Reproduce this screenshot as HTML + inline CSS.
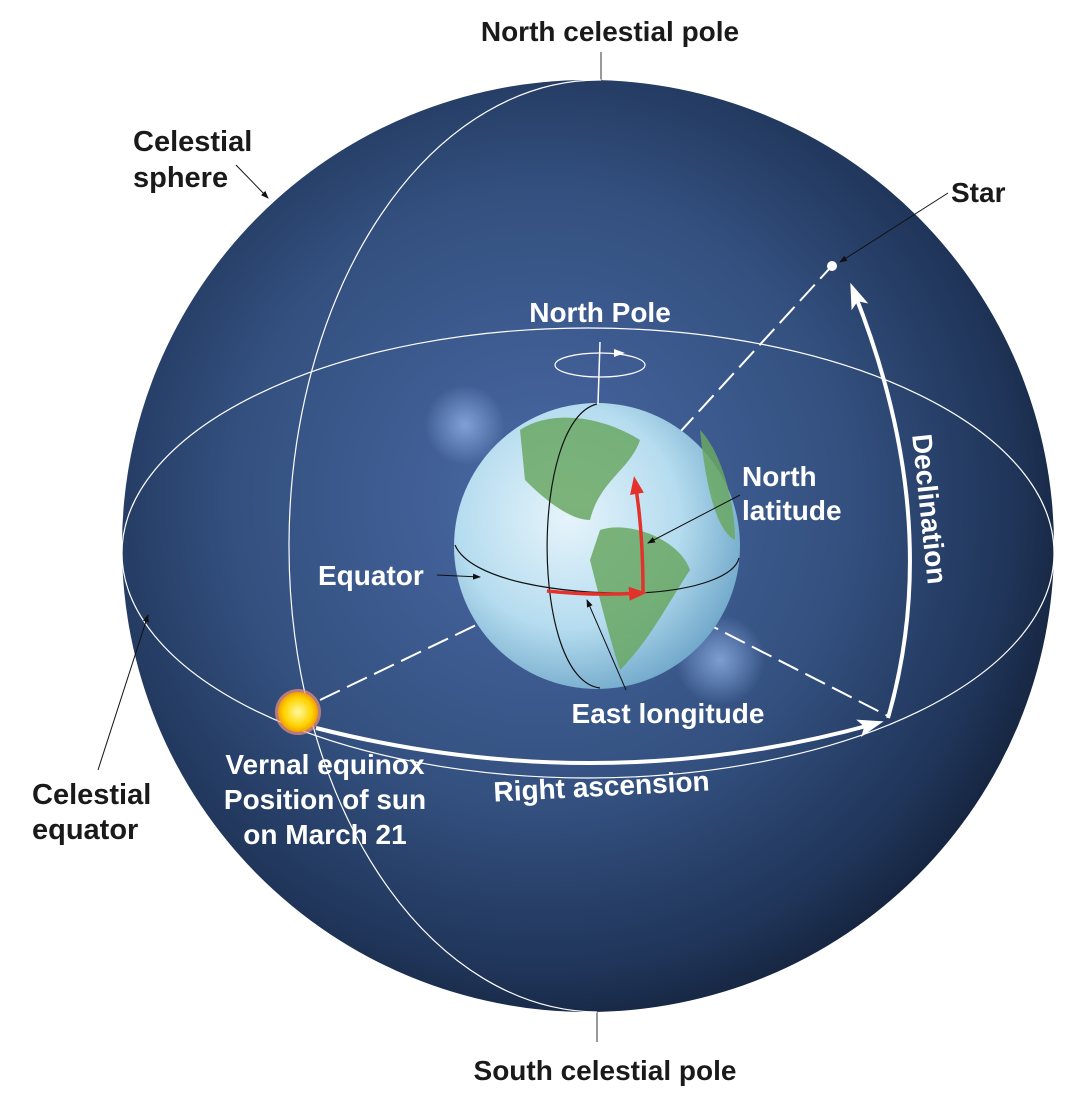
<!DOCTYPE html>
<html><head><meta charset="utf-8"><style>
html,body{margin:0;padding:0;background:#fff;}
svg{display:block;}
text{font-family:"Liberation Sans",sans-serif;font-weight:bold;}
</style></head><body>
<svg width="1088" height="1110" viewBox="0 0 1088 1110">
<defs>
<radialGradient id="sph" cx="0.45" cy="0.45" r="0.6">
<stop offset="0" stop-color="#4a69a5"/><stop offset="0.55" stop-color="#33507f"/><stop offset="0.85" stop-color="#1f3458"/><stop offset="1" stop-color="#121f36"/>
</radialGradient>
<radialGradient id="earth" cx="0.4" cy="0.4" r="0.65">
<stop offset="0" stop-color="#e6f4fb"/><stop offset="0.6" stop-color="#b5dcef"/><stop offset="1" stop-color="#6fa7c9"/>
</radialGradient>
<radialGradient id="glow"><stop offset="0" stop-color="#8fb0e6" stop-opacity="0.8"/><stop offset="1" stop-color="#8fb0e6" stop-opacity="0"/></radialGradient>
<radialGradient id="sun"><stop offset="0" stop-color="#fff8a0"/><stop offset="0.7" stop-color="#ffd400"/><stop offset="1" stop-color="#f2a000"/></radialGradient>
<marker id="wa" markerWidth="26" markerHeight="20" refX="16" refY="10" orient="auto" markerUnits="userSpaceOnUse"><path d="M0,1 L26,10 L0,19 L6,10 Z" fill="#fff"/></marker>
<marker id="ra" markerWidth="18" markerHeight="14" refX="12" refY="7" orient="auto" markerUnits="userSpaceOnUse"><path d="M0,0 L18,7 L0,14 Z" fill="#e3322b"/></marker>
<marker id="ka" markerWidth="8" markerHeight="8" refX="7" refY="4" orient="auto" markerUnits="userSpaceOnUse"><path d="M0,1 L8,4 L0,7 Z" fill="#111"/></marker>
</defs>
<circle cx="588" cy="546" r="466" fill="url(#sph)"/>
<circle cx="465" cy="425" r="40" fill="url(#glow)"/>
<circle cx="720" cy="660" r="45" fill="url(#glow)"/>
<line x1="601" y1="52" x2="601" y2="80" stroke="#333" stroke-width="1"/>
<line x1="597" y1="1012" x2="597" y2="1042" stroke="#333" stroke-width="1"/>
<path d="M601,80 A310,466 0 0 0 597,1012" fill="none" stroke="#fff" stroke-width="1.2"/>
<ellipse cx="588" cy="553" rx="466" ry="225" fill="none" stroke="#fff" stroke-width="1.2"/>
<g stroke="#fff" stroke-width="2" stroke-dasharray="22,8" fill="none">
<line x1="320" y1="700" x2="545" y2="592"/>
<line x1="645" y1="592" x2="888" y2="716"/>
<line x1="638" y1="478" x2="830" y2="268"/>
</g>
<circle cx="597" cy="546" r="143" fill="url(#earth)"/>
<g fill="#6aa864" opacity="0.85">
<path d="M520,430 C550,410 600,415 640,440 C630,470 600,480 590,520 C570,520 545,500 525,480 Z"/>
<path d="M600,530 C630,520 680,540 690,570 C670,600 650,640 620,670 C610,640 600,600 590,560 Z"/>
<path d="M700,430 C720,450 735,500 735,540 C715,530 705,480 700,430 Z"/>
</g>
<path d="M455,545 C470,580 560,595 640,593 C700,590 735,575 739,558" fill="none" stroke="#111" stroke-width="1.2"/>
<path d="M597,404 C530,420 530,680 600,688" fill="none" stroke="#111" stroke-width="1.2"/>
<line x1="600" y1="342" x2="598" y2="404" stroke="#fff" stroke-width="1.5"/>
<ellipse cx="600" cy="365" rx="45" ry="12" fill="none" stroke="#fff" stroke-width="1.2"/>
<path d="M614,349 L625,353 L614,357 Z" fill="#fff"/>
<path d="M547,591 Q595,596 641,593" fill="none" stroke="#e3322b" stroke-width="3.5" marker-end="url(#ra)"/>
<path d="M643,592 Q643,530 635,482" fill="none" stroke="#e3322b" stroke-width="3.5" marker-end="url(#ra)"/>
<path d="M316,728 Q600,800 874,724" fill="none" stroke="#fff" stroke-width="4" marker-end="url(#wa)"/>
<path d="M888,718 Q945,520 854,292" fill="none" stroke="#fff" stroke-width="4" marker-end="url(#wa)"/>
<circle cx="298" cy="712" r="23" fill="#f29080" opacity="0.7"/>
<circle cx="298" cy="712" r="20" fill="url(#sun)"/>
<circle cx="832" cy="266" r="5" fill="#fff"/>
<g stroke="#111" stroke-width="1" fill="none">
<line x1="236" y1="165" x2="268" y2="198" marker-end="url(#ka)"/>
<line x1="948" y1="193" x2="840" y2="262" marker-end="url(#ka)"/>
<line x1="437" y1="575" x2="480" y2="577" marker-end="url(#ka)"/>
<line x1="740" y1="495" x2="648" y2="543" marker-end="url(#ka)"/>
<line x1="626" y1="690" x2="587" y2="600" marker-end="url(#ka)"/>
<line x1="98" y1="770" x2="148" y2="615" marker-end="url(#ka)"/>
</g>
<g font-size="28" fill="#1a1a1a">
<text x="610" y="41" text-anchor="middle">North celestial pole</text>
<text x="605" y="1080" text-anchor="middle">South celestial pole</text>
<text x="133" y="151" font-size="29">Celestial</text>
<text x="133" y="187" font-size="29">sphere</text>
<text x="951" y="202">Star</text>
<text x="32" y="804" font-size="29">Celestial</text>
<text x="32" y="839" font-size="29">equator</text>
</g>
<g font-size="28" fill="#fff">
<text x="600" y="322" text-anchor="middle">North Pole</text>
<text x="742" y="486">North</text>
<text x="742" y="520">latitude</text>
<text x="318" y="585">Equator</text>
<text x="668" y="723" text-anchor="middle">East longitude</text>
<text x="325" y="774" text-anchor="middle">Vernal equinox</text>
<text x="325" y="809" text-anchor="middle">Position of sun</text>
<text x="325" y="844" text-anchor="middle">on March 21</text>
<text x="602" y="796" text-anchor="middle" transform="rotate(-3 602 796)">Right ascension</text>
<text x="920" y="510" text-anchor="middle" transform="rotate(84 920 510)">Declination</text>
</g>
</svg>
</body></html>
